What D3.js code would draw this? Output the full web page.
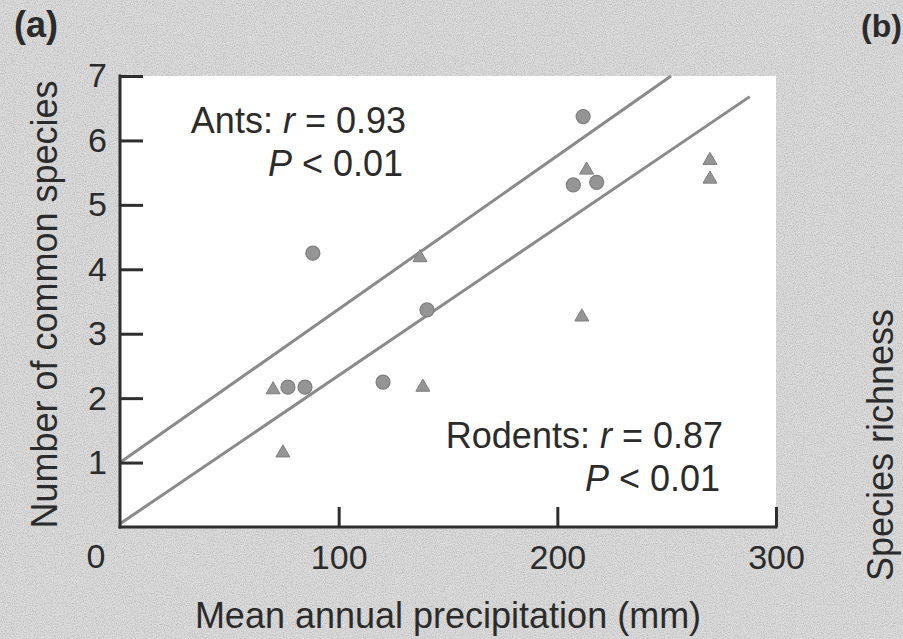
<!DOCTYPE html>
<html>
<head>
<meta charset="utf-8">
<script src="https://cdn.jsdelivr.net/npm/d3@7"></script>
<style>
  html, body { margin: 0; padding: 0; background: #d8d8d8; }
  svg { display: block; }
  text { font-family: "Liberation Sans", Arial, Helvetica, sans-serif; fill: #2b2b2b; }
</style>
</head>
<body>
<script>
// ---- data ----
const antsX = [88.2, 76.8, 84.6, 120.3, 140.4, 211.8, 207.3, 218.0];
const antsY = [4.25, 2.17, 2.17, 2.25, 3.37, 6.37, 5.31, 5.35];
const rodentsX = [70.0, 74.5, 138.5, 137.2, 213.4, 269.8, 269.8, 211.2];
const rodentsY = [2.13, 1.15, 2.17, 4.18, 5.54, 5.69, 5.40, 3.26];
const antsFitX = [0, 252];
const antsFitY = [1.0, 7.0];
const rodentsFitX = [0, 288];
const rodentsFitY = [0.05, 6.68];
const xTicks = [100, 200, 300];
const yTicks = [1, 2, 3, 4, 5, 6, 7];
const originLabel = "0";
const xTitle = "Mean annual precipitation (mm)";
const yTitle = "Number of common species";
const panelA = "(a)";
const panelB = "(b)";
const panelBYTitle = "Species richness";
const antsStat = ["Ants: ", "r", " = 0.93"];
const rodentsStat = ["Rodents: ", "r", " = 0.87"];
const pStat = ["P", " < 0.01"];

// ---- layout ----
const W = 903, H = 639;
const x = d3.scaleLinear().domain([0, 300]).range([120, 776]);
const y = d3.scaleLinear().domain([0, 7]).range([527, 76]);

const svg = d3.select("body").append("svg").attr("width", W).attr("height", H);

// speckled scan-like background
const defs = svg.append("defs");
const f = defs.append("filter").attr("id", "grain").attr("x", 0).attr("y", 0)
  .attr("width", "100%").attr("height", "100%");
f.append("feTurbulence").attr("type", "fractalNoise").attr("baseFrequency", 0.9)
  .attr("numOctaves", 2).attr("seed", 3).attr("result", "noise");
f.append("feColorMatrix").attr("in", "noise").attr("type", "matrix")
  .attr("values", "0 0 0 0 0  0 0 0 0 0  0 0 0 0 0  0 0 0 -0.9 0.55");
svg.append("rect").attr("width", W).attr("height", H).attr("fill", "#dcdcdc");
svg.append("rect").attr("width", W).attr("height", H).attr("filter", "url(#grain)").attr("opacity", 0.35);

// white plot area
svg.append("rect")
  .attr("x", x(0) - 1).attr("y", y(7))
  .attr("width", x(300) - x(0) + 1).attr("height", y(0) - y(7))
  .attr("fill", "#ffffff");

// fit lines
const line = d3.line().x(d => x(d[0])).y(d => y(d[1]));
[[antsFitX, antsFitY], [rodentsFitX, rodentsFitY]].forEach(([fx, fy]) => {
  svg.append("path")
    .datum(fx.map((v, i) => [v, fy[i]]))
    .attr("d", line)
    .attr("fill", "none")
    .attr("stroke", "#8a8a8a")
    .attr("stroke-width", 3);
});

// points
const ants = antsX.map((v, i) => [v, antsY[i]]);
const rodents = rodentsX.map((v, i) => [v, rodentsY[i]]);
svg.append("g").selectAll("circle").data(ants).join("circle")
  .attr("cx", d => x(d[0])).attr("cy", d => y(d[1])).attr("r", 7)
  .attr("fill", "#959595").attr("stroke", "#7e7e7e").attr("stroke-width", 1.2);
svg.append("g").selectAll("path").data(rodents).join("path")
  .attr("transform", d => `translate(${x(d[0])},${y(d[1])})`)
  .attr("d", d3.symbol(d3.symbolTriangle, 85))
  .attr("fill", "#959595").attr("stroke", "#7e7e7e").attr("stroke-width", 1);

// axes
const yAxis = svg.append("g")
  .attr("transform", `translate(${x(0)},0)`)
  .call(d3.axisLeft(y).tickValues(yTicks).tickFormat(d3.format("d"))
    .tickSizeInner(-23).tickSizeOuter(0).tickPadding(13));
const xAxis = svg.append("g")
  .attr("transform", `translate(0,${y(0)})`)
  .call(d3.axisBottom(x).tickValues(xTicks).tickFormat(d3.format("d"))
    .tickSizeInner(-20).tickSizeOuter(0).tickPadding(18));
[yAxis, xAxis].forEach(g => {
  g.select(".domain").attr("stroke", "#2e2e2e").attr("stroke-width", 3);
  g.selectAll(".tick line").attr("stroke", "#2e2e2e").attr("stroke-width", 3);
  g.selectAll(".tick text").attr("font-size", 34)
    .attr("font-family", '"Liberation Sans", Arial, Helvetica, sans-serif').attr("fill", "#2b2b2b");
});
xAxis.select(".domain").attr("d", `M${x(0) - 1.5},0H${x(300) + 1.5}`);
yAxis.select(".domain").attr("d", `M0,${y(0) + 1.5}V${y(7) - 1.5}`);

// origin label
svg.append("text").attr("x", x(0) - 24).attr("y", y(0) + 41)
  .attr("text-anchor", "middle").attr("font-size", 34).text(originLabel);

// axis titles
svg.append("text").attr("x", (x(0) + x(300)) / 2).attr("y", 628)
  .attr("text-anchor", "middle").attr("font-size", 36).text(xTitle);
svg.append("text")
  .attr("transform", `translate(57,${(y(0) + y(7)) / 2 + 3}) rotate(-90)`)
  .attr("text-anchor", "middle").attr("font-size", 36).text(yTitle);

// panel labels
svg.append("text").attr("x", 14).attr("y", 37).attr("font-size", 36)
  .attr("font-weight", "bold").text(panelA);
svg.append("text").attr("x", 861).attr("y", 37).attr("font-size", 32)
  .attr("font-weight", "bold").text(panelB);
svg.append("text")
  .attr("transform", `translate(893,445) rotate(-90)`)
  .attr("text-anchor", "middle").attr("font-size", 36).text(panelBYTitle);

// statistics annotations
function stat(parts, xr, yb, italicIdx) {
  const t = svg.append("text").attr("x", xr).attr("y", yb)
    .attr("text-anchor", "end").attr("font-size", 36);
  parts.forEach((p, i) => {
    t.append("tspan").attr("font-style", i === italicIdx ? "italic" : "normal")
      .attr("xml:space", "preserve").text(p);
  });
}
stat(antsStat, 406, 133, 1);
stat(pStat, 403, 176, 0);
stat(rodentsStat, 723, 448, 1);
stat(pStat, 720, 491, 0);
</script>
</body>
</html>
